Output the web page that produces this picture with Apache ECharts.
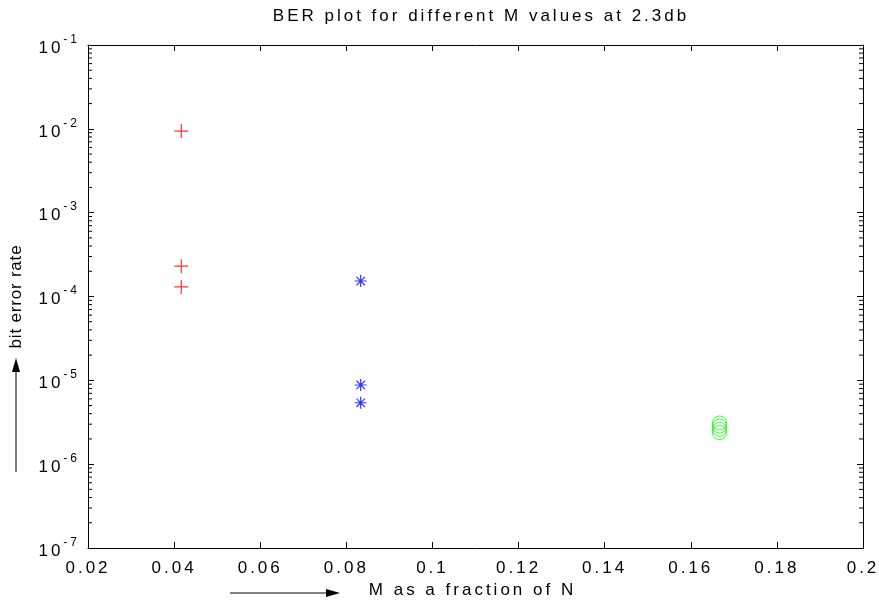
<!DOCTYPE html>
<html><head><meta charset="utf-8">
<script src="https://cdn.jsdelivr.net/npm/echarts@6/dist/echarts.min.js"></script>
<style>html,body{margin:0;padding:0;background:#fff}#c{width:879px;height:600px}</style>
</head><body><div id="c"></div>
<script>
const title = 'BER plot for different M values at 2.3db';
const xLabel = 'M as a fraction of N';
const yLabel = 'bit error rate';
const xTicks = [0.02,0.04,0.06,0.08,0.1,0.12,0.14,0.16,0.18,0.2];
const redX = [1/24, 1/24, 1/24];
const redY = [0.0094, 2.3e-4, 1.3e-4];
const blueX = [1/12, 1/12, 1/12];
const blueY = [1.53e-4, 8.8e-6, 5.4e-6];
const greenX = [1/6, 1/6, 1/6, 1/6];
const greenY = [3.1e-6, 2.85e-6, 2.6e-6, 2.38e-6];
const decades = [-7,-6,-5,-4,-3,-2,-1];

const minorVals = [];
for (let k=-7;k<-1;k++) for (let m=2;m<=9;m++) minorVals.push(m*Math.pow(10,k));

// MATLAB-like wide letter spacing for text (applied to both measuring and drawing)
function lsFor(font){ return (font && font.indexOf('sans-serif')>=0) ? '0.8px' : '3px'; }
(function(){
  const P = CanvasRenderingContext2D.prototype;
  if (!('letterSpacing' in P)) return;
  const mt = P.measureText, ft = P.fillText, st = P.strokeText;
  P.measureText = function(t){ this.letterSpacing = lsFor(this.font); return mt.call(this, t); };
  P.fillText = function(){ this.letterSpacing = lsFor(this.font); return ft.apply(this, arguments); };
  P.strokeText = function(){ this.letterSpacing = lsFor(this.font); return st.apply(this, arguments); };
})();

const FONT = 'Liberation Sans';
const chart = echarts.init(document.getElementById('c'), null, {renderer:'canvas'});

function zipXY(xs, ys){ return xs.map((x,i)=>[x, ys[i]]); }

const plusPath = 'path://M0,5L10,5M5,0L5,10';
const starPath = 'path://M0,5L10,5M5,0L5,10M1.5,1.5L8.5,8.5M1.5,8.5L8.5,1.5';

const axisLineStyle = {color:'#000', width:1};
const option = {
  animation:false,
  backgroundColor:'#fff',
  title:{text:title, left:476, top:1, textAlign:'center',
    textStyle:{fontFamily:FONT, fontSize:17, fontWeight:'normal', color:'#000'}},
  grid:{left:88, right:16, top:45, bottom:52, containLabel:false, outerBoundsMode:'none'},
  xAxis:[{type:'value', min:0.02, max:0.2, interval:0.02, position:'bottom',
    axisLine:{lineStyle:axisLineStyle}, axisTick:{inside:true, length:6, lineStyle:axisLineStyle},
    splitLine:{show:false},
    axisLabel:{fontFamily:FONT, fontSize:17, color:'#000', margin:10,
      formatter:v=>{ const r=Math.round(v*100)/100; return String(r);} },
    name:xLabel, nameLocation:'middle', nameGap:32, nameMoveOverlap:false,
    nameTextStyle:{fontFamily:FONT, fontSize:17, color:'#000', padding:[0,6,0,0]}},
   {type:'value', min:0.02, max:0.2, interval:0.02, position:'top',
    axisLine:{lineStyle:axisLineStyle}, axisTick:{inside:true, length:6, lineStyle:axisLineStyle},
    axisLabel:{show:false}, splitLine:{show:false}}],
  yAxis:[{type:'log', logBase:10, min:1e-7, max:1e-1, position:'left',
    axisLine:{show:true, lineStyle:axisLineStyle}, axisTick:{inside:true, length:6, lineStyle:axisLineStyle},
    splitLine:{show:false}, minorTick:{show:false},
    axisLabel:{margin:8, formatter:v=>{const e=Math.round(Math.log10(v)); return '{b|10}{s|'+e+'}';},
      rich:{b:{fontFamily:FONT, fontSize:17, color:'#000', padding:[6,0,0,0]}, s:{fontFamily:FONT, fontSize:12, color:'#000', verticalAlign:'top', padding:[0,0,8,0]}}},
    name:yLabel, nameLocation:'middle', nameGap:63, nameRotate:90, nameMoveOverlap:false,
    nameTextStyle:{fontFamily:'"Liberation Sans", sans-serif', fontSize:17, color:'#000', padding:[0,0,0,0]}},
   {type:'log', logBase:10, min:1e-7, max:1e-1, position:'right',
    axisLine:{show:true, lineStyle:axisLineStyle}, axisTick:{inside:true, length:6, lineStyle:axisLineStyle},
    axisLabel:{show:false}, splitLine:{show:false}}],
  series:[
    {type:'custom', xAxisIndex:0, yAxisIndex:0, silent:true, z:1,
     data: minorVals.map(v=>[0.02, v]),
     renderItem:(params, api)=>{
       const p = api.coord([0.02, api.value(1)]);
       const q = api.coord([0.2, api.value(1)]);
       return {type:'group', children:[
         {type:'line', shape:{x1:p[0], y1:p[1], x2:p[0]+4, y2:p[1]}, style:{stroke:'#000', lineWidth:1}},
         {type:'line', shape:{x1:q[0]-4, y1:q[1], x2:q[0], y2:q[1]}, style:{stroke:'#000', lineWidth:1}}
       ]};
     }},
    {type:'scatter', data:zipXY(redX, redY), symbol:plusPath, symbolSize:14,
     itemStyle:{color:'none', borderColor:'#ff0000', borderWidth:1.2}},
    {type:'scatter', data:zipXY(blueX, blueY), symbol:starPath, symbolSize:12,
     itemStyle:{color:'none', borderColor:'#0000ff', borderWidth:1.2}},
    {type:'scatter', data:zipXY(greenX, greenY), symbol:'circle', symbolSize:14,
     itemStyle:{color:'none', borderColor:'#00ff00', borderWidth:1}}
  ],
  graphic:[
    {type:'line', shape:{x1:16, y1:472, x2:16, y2:372}, style:{stroke:'#000', lineWidth:1}},
    {type:'polygon', shape:{points:[[12,372],[20,372],[16,358]]}, style:{fill:'#000'}},
    {type:'line', shape:{x1:230, y1:593, x2:330, y2:593}, style:{stroke:'#000', lineWidth:1}},
    {type:'polygon', shape:{points:[[326,589],[326,597],[340,593]]}, style:{fill:'#000'}}
  ]
};
chart.setOption(option);
</script></body></html>
